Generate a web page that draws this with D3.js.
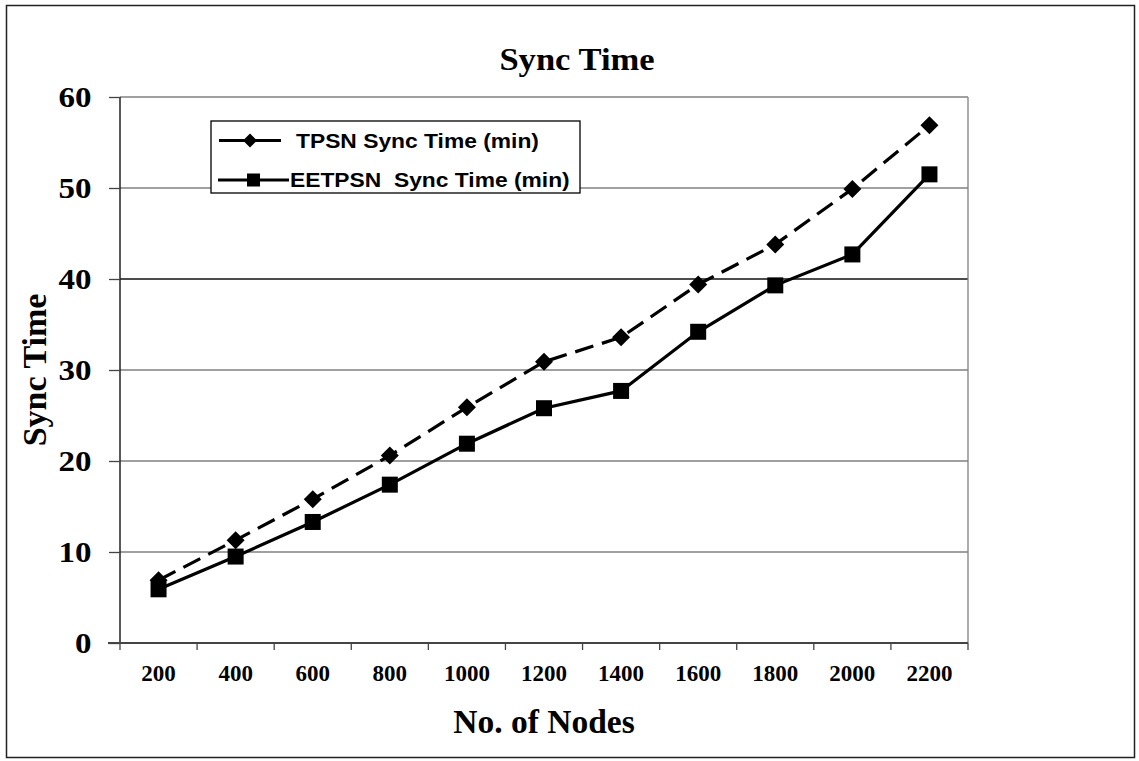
<!DOCTYPE html>
<html><head><meta charset="utf-8">
<script src="https://cdn.jsdelivr.net/npm/d3@7"></script>
<style>html,body{margin:0;padding:0;background:#fff;}</style>
</head><body>
<svg id="c" width="1139" height="761"></svg>
<script>
const categories = ["200","400","600","800","1000","1200","1400","1600","1800","2000","2200"];
const tpsn = [6.9, 11.3, 15.8, 20.6, 25.9, 30.9, 33.6, 39.4, 43.8, 49.9, 56.9];
const eetpsn = [5.9, 9.5, 13.3, 17.4, 21.9, 25.8, 27.7, 34.2, 39.3, 42.7, 51.5];
const yTicks = [0,10,20,30,40,50,60];
const seriesNames = ["TPSN Sync Time (min)", "EETPSN  Sync Time (min)"];

const svg = d3.select("#c");
const L=120, R=968, T=97, B=643;
svg.append("rect").attr("x",6.5).attr("y",5.5).attr("width",1128).attr("height",752)
  .attr("fill","#fff").attr("stroke","#222").attr("stroke-width",1.5);

const x = d3.scaleBand().domain(categories).range([L,R]);
const y = d3.scaleLinear().domain([0,60]).range([B,T]);

// gridlines
svg.append("g").selectAll("line").data(yTicks.filter(d=>d>0)).join("line")
  .attr("x1",L).attr("x2",R).attr("y1",d=>y(d)).attr("y2",d=>y(d))
  .attr("stroke",d=>d===40?"#111":"#808080").attr("stroke-width",1.3);
// right border
svg.append("line").attr("x1",R).attr("x2",R).attr("y1",T).attr("y2",B)
  .attr("stroke","#808080").attr("stroke-width",1.3);

// y axis
const ya = svg.append("g").attr("transform",`translate(${L},0)`)
  .call(d3.axisLeft(y).tickValues(yTicks).tickSize(11).tickPadding(15).tickFormat(d3.format("d")));
ya.select(".domain").attr("stroke","#222").attr("stroke-width",1.5).attr("d",`M0,${T}V${B}`);
ya.selectAll(".tick line").attr("stroke","#444").attr("stroke-width",1.3);
ya.selectAll("text").attr("font-family","Liberation Serif").attr("font-weight","bold")
  .attr("font-size",30).attr("fill","#000").attr("transform","scale(1.1,1)");

// x axis
const xa = svg.append("g").attr("transform",`translate(0,${B})`)
  .call(d3.axisBottom(x).tickSize(0).tickPadding(22));
xa.select(".domain").remove();
xa.append("line").attr("x1",L-12).attr("x2",R).attr("y1",0).attr("y2",0)
  .attr("stroke","#444").attr("stroke-width",2);
const bounds = categories.map(c=>x(c)).concat([R]);
xa.selectAll(".bt").data(bounds).join("line").attr("class","bt")
  .attr("x1",d=>d).attr("x2",d=>d).attr("y1",0).attr("y2",7)
  .attr("stroke","#444").attr("stroke-width",1.3);
xa.selectAll(".tick text").attr("font-family","Liberation Serif").attr("font-weight","bold")
  .attr("font-size",23).attr("fill","#000");

// titles
svg.append("text").attr("transform","translate(577,70) scale(1.08,1)").attr("text-anchor","middle")
  .attr("font-family","Liberation Serif").attr("font-weight","bold").attr("font-size",32).text("Sync Time");
svg.append("text").attr("x",544).attr("y",733).attr("text-anchor","middle")
  .attr("font-family","Liberation Serif").attr("font-weight","bold").attr("font-size",33.5).text("No. of Nodes");
svg.append("text").attr("transform","translate(46,370) rotate(-90)").attr("text-anchor","middle")
  .attr("font-family","Liberation Serif").attr("font-weight","bold").attr("font-size",34).text("Sync Time");

const cx = c => x(c)+x.bandwidth()/2;
const line = d3.line().x((d,i)=>cx(categories[i])).y(d=>y(d));

svg.append("path").datum(tpsn).attr("d",line).attr("fill","none").attr("stroke","#000")
  .attr("stroke-width",3.2).attr("stroke-dasharray","19,9");
svg.append("path").datum(eetpsn).attr("d",line).attr("fill","none").attr("stroke","#000")
  .attr("stroke-width",3.2);

const diamond = s => `M0,${-s}L${s},0L0,${s}L${-s},0Z`;
svg.append("g").selectAll("path").data(tpsn).join("path")
  .attr("transform",(d,i)=>`translate(${cx(categories[i])},${y(d)})`)
  .attr("d",diamond(9)).attr("fill","#000");
svg.append("g").selectAll("rect").data(eetpsn).join("rect")
  .attr("x",(d,i)=>cx(categories[i])-8).attr("y",d=>y(d)-8)
  .attr("width",16).attr("height",16).attr("fill","#000");

// legend
const lg = svg.append("g");
lg.append("rect").attr("x",211).attr("y",121).attr("width",369).attr("height",72)
  .attr("fill","#fff").attr("stroke","#000").attr("stroke-width",1.3);
const ly = [140.5, 180];
lg.append("line").attr("x1",219).attr("x2",281).attr("y1",ly[0]).attr("y2",ly[0]).attr("stroke","#000").attr("stroke-width",3);
lg.append("path").attr("transform",`translate(250,${ly[0]})`).attr("d",diamond(7)).attr("fill","#000");
lg.append("line").attr("x1",218).attr("x2",289).attr("y1",ly[1]).attr("y2",ly[1]).attr("stroke","#000").attr("stroke-width",3);
lg.append("rect").attr("x",247).attr("y",ly[1]-6.5).attr("width",13).attr("height",13).attr("fill","#000");
lg.selectAll("text").data(seriesNames).join("text")
  .attr("transform",(d,i)=>`translate(${i===0?296:290},${ly[i]+7}) scale(1.17,1)`)
  .attr("xml:space","preserve").style("white-space","pre")
  .attr("font-family","Liberation Sans").attr("font-weight","bold").attr("font-size",19.5)
  .text(d=>d);
</script>
</body></html>
